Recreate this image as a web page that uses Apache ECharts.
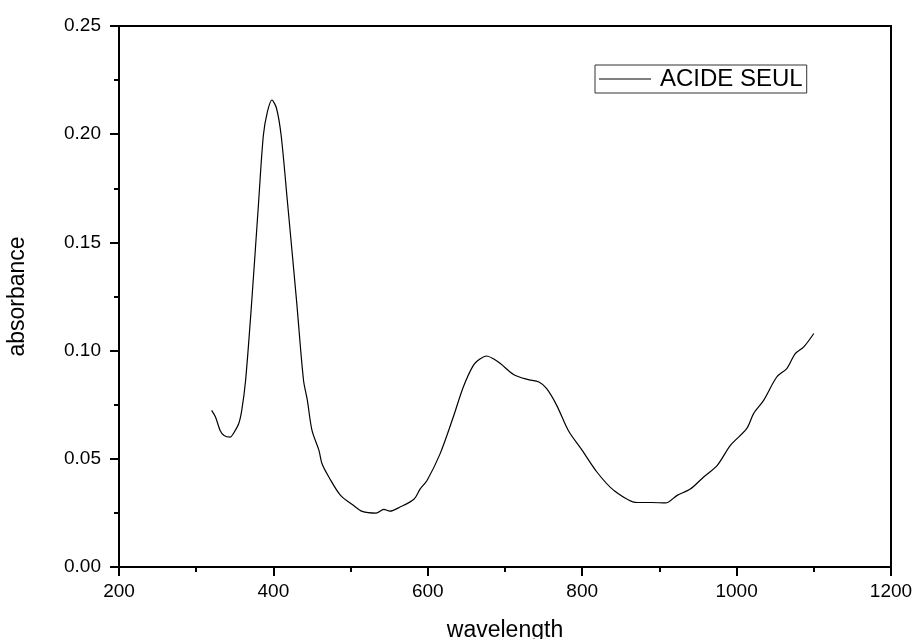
<!DOCTYPE html>
<html>
<head>
<meta charset="utf-8">
<script src="https://cdn.jsdelivr.net/npm/echarts@6/dist/echarts.min.js"></script>
<style>
  html, body { margin: 0; padding: 0; background: #fff; }
  #chart { width: 914px; height: 639px; }
</style>
</head>
<body>
<div id="chart"></div>
<script>
// spectrum
const wavelength = [320, 325, 331, 336, 344, 348, 355, 359, 364, 372, 381, 387, 392, 398, 404, 410,
  418, 430, 439, 444, 450, 459, 463, 472, 487, 504, 515, 533, 543, 551, 564, 582, 590, 599, 616,
  633, 646, 659, 668, 676, 685, 694, 711, 729, 744, 754, 767, 782, 800, 819, 841, 871, 890, 908,
  923, 940, 957, 975, 992, 1013, 1022, 1035, 1052, 1065, 1076, 1087, 1100];
const absorbance = [0.0724, 0.0693, 0.0631, 0.0608, 0.0600, 0.0616, 0.0662, 0.0724, 0.0863, 0.123,
  0.1695, 0.1995, 0.210, 0.2158, 0.212, 0.1995, 0.1695, 0.123, 0.0863, 0.0770, 0.0631, 0.0539,
  0.0477, 0.0415, 0.0331, 0.0284, 0.0257, 0.0249, 0.0266, 0.0258, 0.0277, 0.0313, 0.0360, 0.0400,
  0.0524, 0.0693, 0.0832, 0.0932, 0.0962, 0.0975, 0.0962, 0.0940, 0.0890, 0.0867, 0.0855, 0.0824,
  0.0747, 0.0631, 0.0539, 0.0439, 0.0354, 0.0298, 0.0298, 0.0296, 0.0331, 0.0360, 0.0415, 0.0470,
  0.0562, 0.0639, 0.0709, 0.0770, 0.0878, 0.0917, 0.0986, 0.1017, 0.1079];
const seriesName = 'ACIDE SEUL';
const xTicks = [200, 1200, 200];   // min, max, interval
const yTicks = [0, 0.25, 0.05];

let chart = echarts.init(document.getElementById('chart'));
const font = 'Liberation Sans, Arial, sans-serif';
const black = '#000';

chart.setOption({
  animation: false,
  backgroundColor: '#fff',
  grid: {
    left: 119, right: 23, top: 26, bottom: 72,
    outerBoundsMode: 'none',
    show: true, borderColor: black, borderWidth: 2
  },
  legend: {
    data: [seriesName],
    left: 595, top: 65,
    icon: 'rect', itemWidth: 52, itemHeight: 1, itemGap: 0,
    borderColor: '#333', borderWidth: 1, padding: [2, 4, 2, 4],
    textStyle: { fontFamily: font, fontSize: 24, color: black, padding: [0, 0, 0, 4] }
  },
  xAxis: {
    type: 'value',
    min: xTicks[0], max: xTicks[1], interval: xTicks[2],
    name: 'wavelength', nameLocation: 'middle', nameGap: 52,
    nameTextStyle: { fontFamily: font, fontSize: 23, color: black },
    axisLine: { show: true, lineStyle: { color: black, width: 2 } },
    axisTick: { show: true, length: 9, lineStyle: { color: black, width: 2 } },
    minorTick: { show: true, splitNumber: 2, length: 5, lineStyle: { color: black, width: 2 } },
    axisLabel: { fontFamily: font, fontSize: 19, color: black, margin: 15,
      formatter: v => String(v) },
    splitLine: { show: false }
  },
  yAxis: {
    type: 'value',
    min: yTicks[0], max: yTicks[1], interval: yTicks[2],
    name: 'absorbance', nameLocation: 'middle', nameGap: 90,
    nameTextStyle: { fontFamily: font, fontSize: 23, color: black },
    axisLine: { show: true, lineStyle: { color: black, width: 2 } },
    axisTick: { show: true, length: 9, lineStyle: { color: black, width: 2 } },
    minorTick: { show: true, splitNumber: 2, length: 5, lineStyle: { color: black, width: 2 } },
    axisLabel: { fontFamily: font, fontSize: 19, color: black, margin: 18,
      formatter: v => v.toFixed(2) },
    splitLine: { show: false }
  },
  series: [{
    name: seriesName,
    type: 'line',
    data: wavelength.map((w, i) => [w, absorbance[i]]),
    showSymbol: false,
    symbol: 'none',
    smooth: 0.3,
    color: black,
    lineStyle: { color: black, width: 1.2 }
  }]
});
</script>
</body>
</html>
